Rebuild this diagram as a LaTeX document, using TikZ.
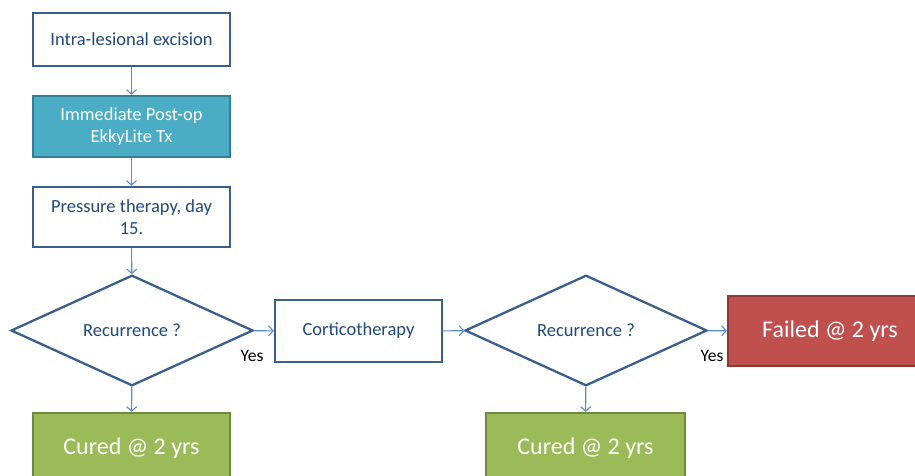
\documentclass[tikz,border=0pt]{standalone}
\usepackage{fontspec}
\setmainfont{Carlito}
\usetikzlibrary{arrows.meta,shapes.geometric}
\definecolor{bord}{HTML}{3A5F8F}
\definecolor{txt}{HTML}{1F497D}
\definecolor{arr}{HTML}{5B8BC9}
\definecolor{tealf}{HTML}{4BACC6}
\definecolor{tealb}{HTML}{357D91}
\definecolor{greenf}{HTML}{9BBB59}
\definecolor{greenb}{HTML}{71893F}
\definecolor{redf}{HTML}{C0504D}
\definecolor{redb}{HTML}{8C3836}
\tikzset{
  box/.style={draw=bord, line width=2.3pt, fill=white, text=txt, inner sep=0pt,
    font=\fontsize{18.5}{22}\selectfont, align=center},
  tealbox/.style={box, draw=tealb, fill=tealf, text=white},
  greenbox/.style={draw=greenb, line width=2.3pt, fill=greenf, text=white, inner sep=0pt,
    font=\fontsize{24}{28}\selectfont, minimum width=197pt, minimum height=70pt},
  redbox/.style={greenbox, draw=redb, fill=redf},
  decision/.style={diamond, draw=bord, line width=2.3pt, fill=white, text=txt, inner sep=0pt,
    font=\fontsize{18.5}{22}\selectfont, minimum width=242pt, minimum height=105pt},
  conn/.style={draw=arr, line width=1.1pt, -{Straight Barb[length=4.5pt,width=10pt]}},
  yeslbl/.style={text=black, font=\fontsize{17.5}{21}\selectfont, inner sep=0pt}
}
\begin{document}
\begin{tikzpicture}[x=1pt,y=-1pt]
\useasboundingbox (0,0) rectangle (915,476);
\node[box, minimum width=197pt, minimum height=53pt] (b1) at (131.5,39.5) {Intra-lesional excision};
\node[tealbox, minimum width=197pt, minimum height=61pt] (b2) at (131.5,126.5) {Immediate Post-op\\EkkyLite Tx};
\node[box, minimum width=197pt, minimum height=60pt] (b3) at (131.5,217) {Pressure therapy, day\\15.};
\node[decision] (d1) at (132,330.5) {Recurrence ?};
\node[box, minimum width=167pt, minimum height=62pt] (ct) at (358.5,331) {Corticotherapy};
\node[decision] (d2) at (586,330.5) {Recurrence ?};
\node[redbox, minimum width=204pt] (fail) at (830,331) {Failed @ 2 yrs};
\node[greenbox] (c1) at (131.5,448) {Cured @ 2 yrs};
\node[greenbox, minimum width=199pt] (c2) at (585.5,448) {Cured @ 2 yrs};
\node[yeslbl] (y1) at (252,356) {Yes};
\node[yeslbl] (y2) at (712,356) {Yes};
\draw[conn] (b1) -- (b2);
\draw[conn] (b2) -- (b3);
\draw[conn] (b3) -- (d1);
\draw[conn] (d1) -- (c1);
\draw[conn] (d1) -- (ct);
\draw[conn] (ct) -- (d2);
\draw[conn] (d2) -- (fail);
\draw[conn] (d2) -- (c2);
\end{tikzpicture}
\end{document}
